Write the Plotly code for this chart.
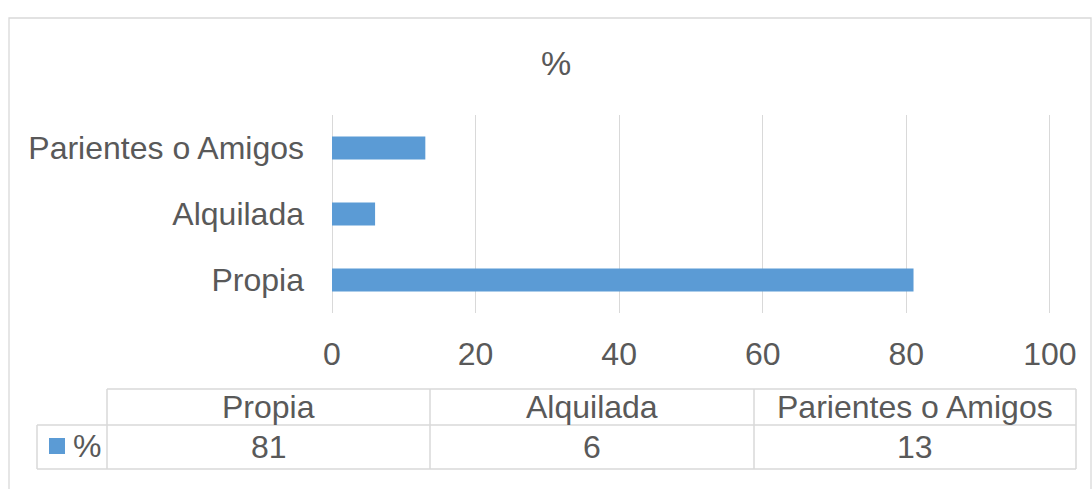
import plotly.graph_objects as go

categories = ["Propia", "Alquilada", "Parientes o Amigos"]
values = [81, 6, 13]
series_name = "%"
x_ticks = [0, 20, 40, 60, 80, 100]

BAR = "#5B9BD5"
TXT = "#595959"
GRID = "#D9D9D9"
FONT = "Liberation Sans, Arial, sans-serif"
FS = 32

W, H = 1092, 489
L, R, T, B = 332, 1051, 115, 313  # plot area in px


def px(x):
    return (x - L) / (R - L)


def py(y):
    return (B - y) / (B - T)


fig = go.Figure()
fig.add_trace(go.Bar(
    y=categories, x=values, orientation="h", name=series_name,
    marker=dict(color=BAR, line=dict(width=0)), hoverinfo="skip",
))

shapes = []
annotations = []

# outer chart border
shapes.append(dict(type="rect", xref="paper", yref="paper",
                   x0=px(9), x1=px(1091), y0=py(520), y1=py(18),
                   line=dict(color=GRID, width=1.3), layer="below"))

# data table
cols = [107, 430, 754, 1076]
top, mid, bot = 389, 425, 469
legend_left = 37
line = dict(color=GRID, width=1.5)
shapes.append(dict(type="line", xref="paper", yref="paper", x0=px(cols[0]), x1=px(cols[-1]), y0=py(top), y1=py(top), line=line))
shapes.append(dict(type="line", xref="paper", yref="paper", x0=px(legend_left), x1=px(cols[-1]), y0=py(mid), y1=py(mid), line=line))
shapes.append(dict(type="line", xref="paper", yref="paper", x0=px(legend_left), x1=px(cols[-1]), y0=py(bot), y1=py(bot), line=line))
for c in cols:
    shapes.append(dict(type="line", xref="paper", yref="paper", x0=px(c), x1=px(c), y0=py(top), y1=py(bot), line=line))
shapes.append(dict(type="line", xref="paper", yref="paper", x0=px(legend_left), x1=px(legend_left), y0=py(mid), y1=py(bot), line=line))

# legend key square
shapes.append(dict(type="rect", xref="paper", yref="paper", x0=px(49), x1=px(65), y0=py(454), y1=py(438),
                   fillcolor=BAR, line=dict(width=0)))
annotations.append(dict(xref="paper", yref="paper", x=px(71), y=py(446), text=series_name,
                        showarrow=False, xanchor="left", yanchor="middle",
                        font=dict(family=FONT, size=FS, color=TXT)))

for i, (cat, val) in enumerate(zip(categories, values)):
    cx = (cols[i] + cols[i + 1]) / 2
    annotations.append(dict(xref="paper", yref="paper", x=px(cx), y=py(407), text=cat,
                            showarrow=False, xanchor="center", yanchor="middle",
                            font=dict(family=FONT, size=FS, color=TXT)))
    annotations.append(dict(xref="paper", yref="paper", x=px(cx), y=py(447), text=str(val),
                            showarrow=False, xanchor="center", yanchor="middle",
                            font=dict(family=FONT, size=FS, color=TXT)))

fig.update_layout(
    width=W, height=H,
    margin=dict(l=L, r=W - R, t=T, b=H - B, pad=0),
    paper_bgcolor="white", plot_bgcolor="white",
    showlegend=False,
    bargap=0.65,
    title=dict(text="%", x=556 / W, y=1 - 63 / H, xref="container", yref="container",
               xanchor="center", yanchor="middle",
               font=dict(family=FONT, size=34, color=TXT)),
    font=dict(family=FONT, size=FS, color=TXT),
    xaxis=dict(range=[0, 100.15], tickvals=x_ticks, showgrid=True, gridcolor=GRID, gridwidth=1.3,
               zeroline=True, zerolinecolor=GRID, zerolinewidth=1.3, showline=False,
               ticks="", ticklabelstandoff=19, fixedrange=True,
               tickfont=dict(family=FONT, size=FS, color=TXT)),
    yaxis=dict(type="category", categoryorder="array", categoryarray=categories,
               range=[-0.5, 2.5], showgrid=False, zeroline=False, showline=False,
               ticks="", ticklabelstandoff=27, fixedrange=True,
               tickfont=dict(family=FONT, size=FS, color=TXT)),
    shapes=shapes, annotations=annotations,
)

fig.write_html("out.html", config={"displayModeBar": False},
               post_script="document.body.style.margin='0';document.body.style.overflow='hidden';")
